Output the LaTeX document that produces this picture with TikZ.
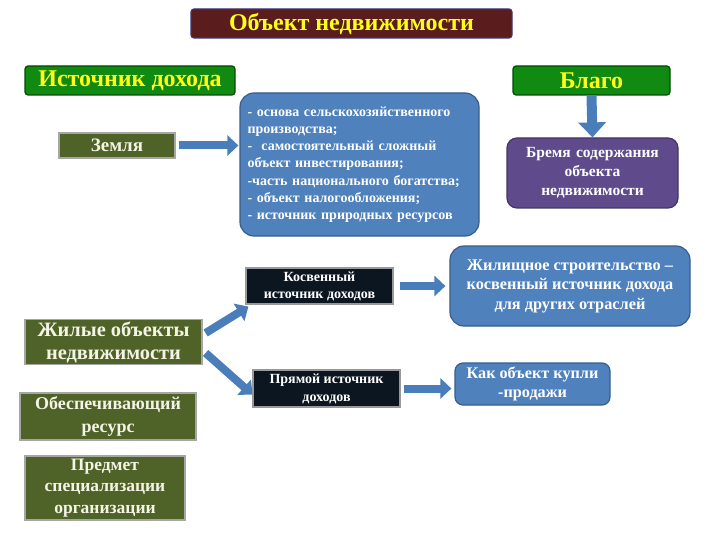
\documentclass[tikz,border=0pt]{standalone}
\usepackage{fontspec}
\setmainfont{Liberation Serif}
\usetikzlibrary{arrows.meta}
\definecolor{maroon}{HTML}{5A1C1C}
\definecolor{grn}{HTML}{118A11}
\definecolor{olive}{HTML}{4F6228}
\definecolor{purp}{HTML}{5F4B8B}
\definecolor{blu}{HTML}{4F81BD}
\definecolor{bluedk}{HTML}{385D8A}
\definecolor{blk}{HTML}{0C1620}
\definecolor{yel}{HTML}{FFFF1A}
\definecolor{arr}{HTML}{4A7EBB}
\definecolor{cream}{HTML}{F4F4E4}
\tikzset{
  base/.style={draw, line width=1.2pt, inner sep=2pt, align=center, font=\bfseries},
  titlebox/.style={base, fill=maroon, draw=gray!60!blue!70!black, text=yel, rounded corners=3pt},
  greenbox/.style={base, fill=grn, draw=green!30!black, text=yel, rounded corners=3pt},
  olivebox/.style={base, fill=olive, draw=gray!70, text=cream},
  purpbox/.style={base, fill=purp, draw=purp!70!black, text=white, rounded corners=10pt},
  bluebox/.style={base, fill=blu, draw=bluedk, text=white, rounded corners=14pt},
  blackbox/.style={base, fill=blk, draw=gray!80, text=white},
  blockarrow/.style={draw=arr, line width=8pt, -{Triangle[width=20pt,length=11pt]}},
}
\begin{document}
\begin{tikzpicture}[x=1pt,y=-1pt]
\useasboundingbox (0,0) rectangle (720,540);
\node[titlebox, minimum width=321pt, minimum height=29pt, font=\bfseries\fontsize{24}{26}\selectfont] (title) at (351.5,23.5) {Объект недвижимости};
\node[greenbox, minimum width=210pt, minimum height=29pt, font=\bfseries\fontsize{24}{26}\selectfont] (ist) at (130,80.5) {Источник дохода};
\node[greenbox, minimum width=157pt, minimum height=29pt, font=\bfseries\fontsize{24}{26}\selectfont] (blago) at (591.5,80.5) {Благо};
\node[purpbox, minimum width=171pt, minimum height=70pt, text width=165pt, font=\bfseries\fontsize{15.5}{19}\selectfont] (bremya) at (592.5,173) {Бремя содержания\\объекта\\недвижимости};
\node[olivebox, minimum width=116pt, minimum height=25pt, font=\bfseries\fontsize{19}{21}\selectfont] (zemlya) at (117,145.5) {Земля};
\node[bluebox, minimum width=239pt, minimum height=143pt, text width=224pt, align=left, font=\bfseries\fontsize{14}{17.2}\selectfont] (osn) at (359.5,164.5) {- основа сельскохозяйственного\\производства;\\-~ самостоятельный сложный\\объект инвестирования;\\-часть национального богатства;\\- объект налогообложения;\\- источник природных ресурсов};
\node[blackbox, minimum width=147pt, minimum height=36pt, font=\bfseries\fontsize{14}{17}\selectfont] (kosv) at (319.5,286) {Косвенный\\источник доходов};
\node[bluebox, minimum width=240pt, minimum height=80pt, font=\bfseries\fontsize{16.3}{19.5}\selectfont] (zhil) at (570,286) {Жилищное строительство –\\косвенный источник дохода\\для других отраслей};
\node[olivebox, minimum width=177pt, minimum height=44pt, font=\bfseries\fontsize{20.4}{23}\selectfont] (zhob) at (113.5,342) {Жилые объекты\\недвижимости};
\node[blackbox, minimum width=147pt, minimum height=37pt, font=\bfseries\fontsize{14}{18}\selectfont] (pryam) at (326.5,388.5) {Прямой источник\\доходов};
\node[bluebox, rounded corners=8pt, minimum width=155pt, minimum height=42pt, font=\bfseries\fontsize{16.2}{19}\selectfont] (kupli) at (532.5,384) {Как объект купли\\-продажи};
\node[olivebox, minimum width=176pt, minimum height=47pt, font=\bfseries\fontsize{18}{23}\selectfont] (obesp) at (108,416.5) {Обеспечивающий\\ресурс};
\node[olivebox, minimum width=160pt, minimum height=64pt, font=\bfseries\fontsize{17.5}{21.5}\selectfont] (predmet) at (105,488) {Предмет\\специализации\\организации};
% arrows
\draw[blockarrow] ([xshift=3pt]zemlya.east) -- ([xshift=-1pt]zemlya.east -| osn.west);
\draw[blockarrow, line width=10pt, -{Triangle[width=27pt,length=15pt]}] (blago.south) -- (bremya.north);
\draw[blockarrow] ([xshift=6pt]kosv.east) -- ([xshift=-4pt]kosv.east -| zhil.west);
\draw[blockarrow] ([xshift=3pt]pryam.east) -- ([xshift=-3pt]pryam.east -| kupli.west);
\draw[blockarrow] ([xshift=3pt,yshift=9pt]zhob.east) -- ([xshift=3pt,yshift=-2pt]kosv.south west);
\draw[blockarrow] ([xshift=3pt,yshift=-11pt]zhob.east) -- ([yshift=-6pt]pryam.west);
\end{tikzpicture}
\end{document}
